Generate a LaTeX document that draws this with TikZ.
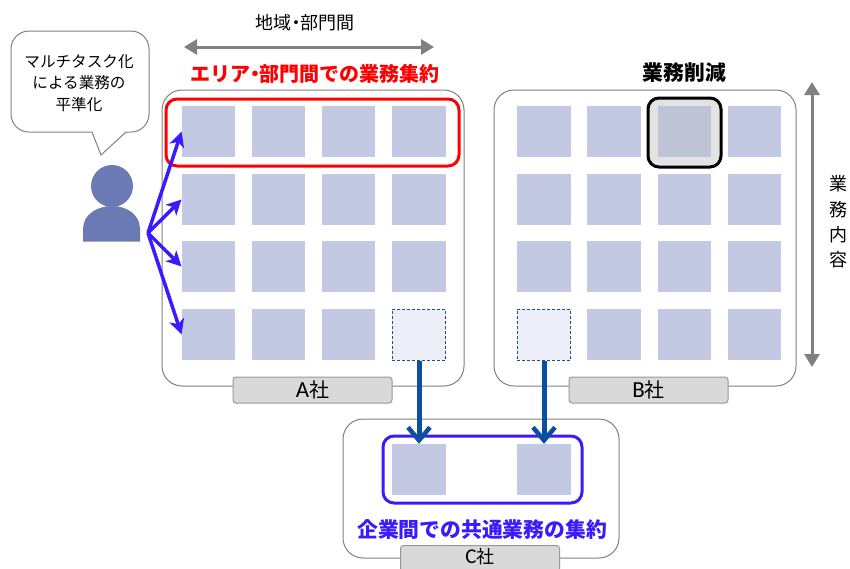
\documentclass[tikz,border=0pt]{standalone}
\usepackage{fontspec}
\setmainfont{Noto Sans CJK JP}
\newfontfamily\latinfont{Carlito}
\usetikzlibrary{arrows.meta}

\definecolor{cellblue}{HTML}{C3C9E3}
\definecolor{cellcut}{HTML}{BFC3D6}
\definecolor{celllight}{HTML}{EDEEF7}
\definecolor{personblue}{HTML}{6B7AB5}
\definecolor{arrowblue}{HTML}{3A1AFF}
\definecolor{movearrow}{HTML}{0B4EA2}
\definecolor{dashblue}{HTML}{1F4E8C}
\definecolor{markred}{HTML}{FF0000}

\newcommand{\tightdot}{\hspace{-.27em}・\hspace{-.27em}}

\tikzset{
	cell/.style = {fill = cellblue, minimum width = 53.5, minimum height = 51, inner sep = 0},
	lightcell/.style = {cell, fill = celllight, draw = dashblue, line width = 1, dash pattern = on 3pt off 2pt},
	panel/.style = {draw = black!50, line width = 1, rounded corners = 20, fill = white},
	tagbox/.style = {draw = black!40, fill = black!15, line width = 1, rounded corners = 3, minimum width = 159, minimum height = 26, inner sep = 0, font = \fontsize{20}{20}\selectfont},
	markbox/.style = {line width = 3, rounded corners = 11},
	grayarrow/.style = {draw = black!50, line width = 3, {Triangle[length = 13, width = 15]}-{Triangle[length = 13, width = 15]}},
	hubarrow/.style = {draw = arrowblue, line width = 3.5, -{Stealth[length = 15, width = 15, inset = 4]}},
	movearrowline/.style = {draw = movearrow, line width = 5, -{Straight Barb[length = 13, width = 22, line width = 4.5]}},
	plaintext/.style = {inner sep = 0, font = \fontsize{18}{18}\selectfont},
	boldtext/.style = {inner sep = 0, font = \fontsize{20.8}{20.8}\selectfont\bfseries}
}

\begin{document}
\begin{tikzpicture}[x = 1pt, y = -1pt]
	\useasboundingbox (0, 0) rectangle (850, 568);

	% panels
	\draw[panel] (162, 90) rectangle (464, 386);
	\draw[panel] (494, 90) rectangle (796, 386);
	\draw[panel] (343, 419) rectangle (619, 558);

	\node[tagbox] (tagA) at (312.5, 390) {{\latinfont\fontsize{23}{23}\selectfont A}社};
	\node[tagbox] (tagB) at (648.5, 390) {{\latinfont\fontsize{23}{23}\selectfont B}社};
	\node[tagbox, font = \fontsize{18}{18}\selectfont, text height = 16, text depth = 6] (tagC) at (480, 558.5) {{\latinfont\fontsize{21}{21}\selectfont C}社};

	% cells
	\foreach \r/\y in {1/131.5, 2/199.5, 3/266.5, 4/334.5} {
		\foreach \c/\x in {1/208.5, 2/278.5, 3/348.5, 4/419}
			\node[cell] (a\r\c) at (\x, \y) {};
		\foreach \c/\x in {1/544, 2/614, 3/684.5, 4/754.5}
			\node[cell] (b\r\c) at (\x, \y) {};
	}
	\node[lightcell] (a44) at (419, 334.5) {};
	\node[lightcell] (b41) at (544, 334.5) {};

	\node[cell] (c1) at (419, 469.5) {};
	\node[cell] (c2) at (544, 469.5) {};

	% marked groups
	\draw[markbox, draw = markred] (166, 99) rectangle (459, 166);
	\fill[black!11, rounded corners = 11] (648, 98) rectangle (721, 167);
	\node[cell, fill = cellcut] (b13) at (684.5, 131.5) {};
	\draw[markbox, draw = black] (648, 98) rectangle (721, 167);
	\draw[markbox, draw = arrowblue] (383, 436) rectangle (582, 503);

	% person and speech bubble
	\fill[personblue] (112, 186) circle (21);
	\fill[personblue] (83, 241.5) -- (83, 229) .. controls (83, 214) and (98, 206) .. (112, 206) .. controls (126, 206) and (140, 214) .. (140, 229) -- (140, 241.5) -- cycle;

	\draw[draw = black!50, line width = 1, fill = white] (29, 31) -- (131, 31) .. controls (141, 31) and (149, 39) .. (149, 49) -- (149, 114) .. controls (149, 124) and (141, 132) .. (131, 132) -- (126, 132) -- (101, 155) -- (92, 132) -- (29, 132) .. controls (19, 132) and (11, 124) .. (11, 114) -- (11, 49) .. controls (11, 39) and (19, 31) .. (29, 31) -- cycle;

	\node[plaintext, font = \fontsize{15.6}{21.5}\selectfont, align = center] (bubbletext) at (79, 83) {マルチタスク化\\による業務の\\平準化};

	% arrows
	\coordinate (hub) at (148, 233);
	\draw[hubarrow] (hub) -- (a11.west);
	\draw[hubarrow] (hub) -- (a21.west);
	\draw[hubarrow] (hub) -- (a31.west);
	\draw[hubarrow] (hub) -- (a41.west);

	\draw[movearrowline] (a44.south) -- (c1.north);
	\draw[movearrowline] (b41.south) -- (c2.north);

	\coordinate (spanleft) at (184, 47);
	\coordinate (spanright) at (434, 47);
	\coordinate (spantop) at (812, 82);
	\coordinate (spanbottom) at (812, 367);
	\draw[grayarrow] (spanleft) -- (spanright);
	\draw[grayarrow] (spantop) -- (spanbottom);

	% labels
	\node[plaintext] (spanlabel) at (305, 23) {地域\tightdot 部門間};
	\node[boldtext, text = markred, font = \fontsize{20}{20}\selectfont\bfseries] (arealabel) at (315, 74) {エリア\tightdot 部門間での業務集約};
	\node[boldtext] (cutlabel) at (684.5, 73) {業務削減};
	\node[boldtext, text = arrowblue] (sharedlabel) at (482, 530) {企業間での共通業務の集約};
	\node[plaintext, font = \fontsize{18}{25.3}\selectfont, align = center] (contentlabel) at (838, 222) {業\\務\\内\\容};
\end{tikzpicture}
\end{document}
